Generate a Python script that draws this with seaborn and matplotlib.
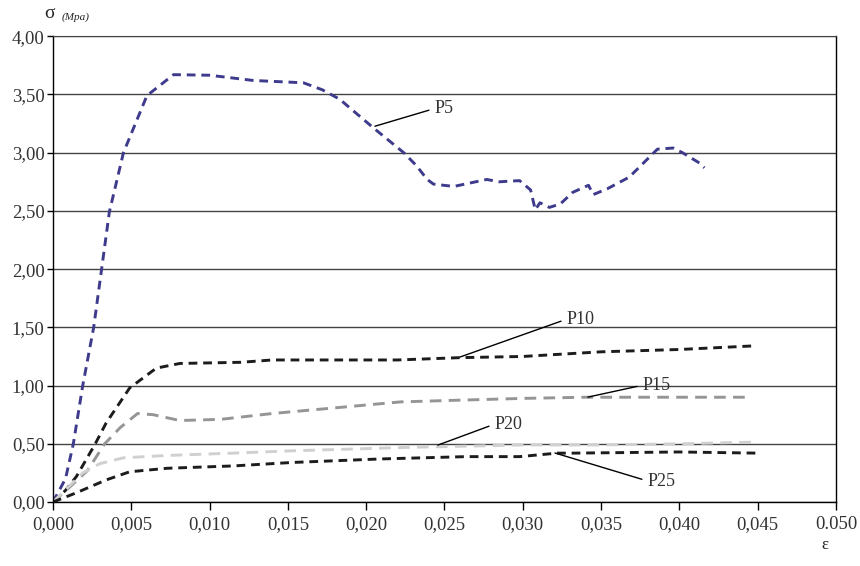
import numpy as np
import pandas as pd
import seaborn as sns
import matplotlib.pyplot as plt

# strain / stress values
p5_eps = [0.0, 0.0008, 0.0013, 0.0019, 0.0026, 0.0036, 0.0045, 0.0060, 0.0077, 0.0100,
          0.0128, 0.0160, 0.0172, 0.0183, 0.0204, 0.0224, 0.0232, 0.0239, 0.0243, 0.0256,
          0.0277, 0.0285, 0.0298, 0.0305, 0.0308, 0.0311, 0.0317, 0.0324, 0.0332, 0.0342,
          0.0345, 0.0354, 0.0368, 0.0377, 0.0386, 0.0396, 0.0402, 0.0413, 0.0416]
p5_sig = [0.0, 0.20, 0.50, 1.00, 1.50, 2.49, 3.00, 3.49, 3.67, 3.665,
          3.62, 3.60, 3.54, 3.46, 3.22, 3.00, 2.89, 2.77, 2.73, 2.71,
          2.77, 2.75, 2.76, 2.68, 2.51, 2.57, 2.53, 2.56, 2.66, 2.72,
          2.64, 2.69, 2.79, 2.91, 3.03, 3.04, 3.00, 2.91, 2.87]

p10_eps = [0.0, 0.0008, 0.0015, 0.0027, 0.0034, 0.0049, 0.0066, 0.0081, 0.0120, 0.0140,
           0.0180, 0.0220, 0.0260, 0.0300, 0.0350, 0.0400, 0.0446]
p10_sig = [0.0, 0.10, 0.22, 0.50, 0.68, 0.98, 1.15, 1.19, 1.20, 1.22,
           1.22, 1.22, 1.24, 1.25, 1.29, 1.31, 1.34]

p15_eps = [0.0, 0.0010, 0.0022, 0.0033, 0.0043, 0.0054, 0.0064, 0.0081, 0.0107, 0.0140,
           0.0181, 0.0222, 0.0260, 0.0300, 0.0340, 0.0446]
p15_sig = [0.0, 0.12, 0.27, 0.50, 0.64, 0.76, 0.75, 0.70, 0.71, 0.76,
           0.81, 0.86, 0.875, 0.89, 0.90, 0.90]

p20_eps = [0.0, 0.0019, 0.0030, 0.0045, 0.0073, 0.0115, 0.0153, 0.0228, 0.0300, 0.0350,
           0.0400, 0.0450]
p20_sig = [0.0, 0.25, 0.33, 0.38, 0.40, 0.42, 0.44, 0.47, 0.49, 0.49,
           0.50, 0.515]

p25_eps = [0.0, 0.0015, 0.0034, 0.0049, 0.0073, 0.0115, 0.0153, 0.0209, 0.0264, 0.0298,
           0.0322, 0.0332, 0.0400, 0.0450]
p25_sig = [0.0, 0.08, 0.19, 0.26, 0.29, 0.31, 0.34, 0.37, 0.39, 0.39,
           0.42, 0.42, 0.43, 0.42]

x_ticks = [0.000, 0.005, 0.010, 0.015, 0.020, 0.025, 0.030, 0.035, 0.040, 0.045, 0.050]
x_tick_labels = ['0,000', '0,005', '0,010', '0,015', '0,020', '0,025', '0,030',
                 '0,035', '0,040', '0,045', '0.050']
y_ticks = [0.0, 0.5, 1.0, 1.5, 2.0, 2.5, 3.0, 3.5, 4.0]
y_tick_labels = ['0,00', '0,50', '1,00', '1,50', '2,00', '2,50', '3,00', '3,50', '4,00']


def main():
    sns.set_style('white')
    plt.rcParams['font.family'] = ['Liberation Serif', 'DejaVu Serif']

    fig = plt.figure(figsize=(8.6, 5.66), dpi=100)
    ax = fig.add_axes([0.0616, 0.113, 0.9104, 0.823])

    series = [
        ('P5', p5_eps, p5_sig, '#3e3b8c', (3, 2)),
        ('P10', p10_eps, p10_sig, '#1c1c1c', (3, 2)),
        ('P15', p15_eps, p15_sig, '#959595', (4, 2.5)),
        ('P20', p20_eps, p20_sig, '#d0d0d0', (4, 2.5)),
        ('P25', p25_eps, p25_sig, '#1c1c1c', (3, 2)),
    ]
    for name, eps, sig, color, dash in series:
        df = pd.DataFrame({'eps': eps, 'sig': sig})
        line = sns.lineplot(data=df, x='eps', y='sig', ax=ax, sort=False,
                            estimator=None, color=color, linewidth=2.1)
        line.lines[-1].set_dashes(dash)

    ax.set_xlim(0, 0.05)
    ax.set_ylim(0, 4.0)
    ax.set_xticks(x_ticks)
    ax.set_xticklabels(x_tick_labels, fontsize=13.5, color='#333333')
    ax.set_yticks(y_ticks)
    ax.set_yticklabels(y_tick_labels, fontsize=13.5, color='#333333')
    ax.set_xlabel('')
    ax.set_ylabel('')
    ax.yaxis.grid(True, color='#444444', linewidth=1.0)
    ax.set_axisbelow(True)
    ax.tick_params(axis='x', direction='out', length=6, width=1, color='black',
                   pad=4, bottom=True)
    ax.tick_params(axis='y', direction='out', length=4.5, width=1, color='black',
                   pad=1.5, left=True)
    for side in ['left', 'bottom', 'right']:
        ax.spines[side].set_color('black')
        ax.spines[side].set_linewidth(1.0)
    ax.spines['top'].set_color('#444444')

    # labels with leader lines
    notes = [
        ('P5', (0.02056, 3.227), (0.02439, 3.38)),
        ('P10', (0.02599, 1.245), (0.03282, 1.571)),
        ('P15', (0.03416, 0.901), (0.03768, 1.004)),
        ('P20', (0.02458, 0.489), (0.02822, 0.670)),
        ('P25', (0.03206, 0.421), (0.03799, 0.180)),
    ]
    for label, xy, xytext in notes:
        ax.annotate(label, xy=xy, xytext=xytext, fontsize=13, color='#333333',
                    ha='left', va='center',
                    arrowprops=dict(arrowstyle='-', color='black', lw=1.0,
                                    relpos=(0, 0.5), shrinkA=2, shrinkB=0))

    fig.text(0.052, 0.976, 'σ', fontsize=14, ha='left', va='center')
    fig.text(0.072, 0.970, '(Mpa)', fontsize=8, style='italic', ha='left', va='center')
    fig.text(0.955, 0.037, 'ε', fontsize=12, ha='left', va='center')

    fig.savefig('out.png', dpi=100)
    plt.close(fig)


if __name__ == "__main__":
    main()
